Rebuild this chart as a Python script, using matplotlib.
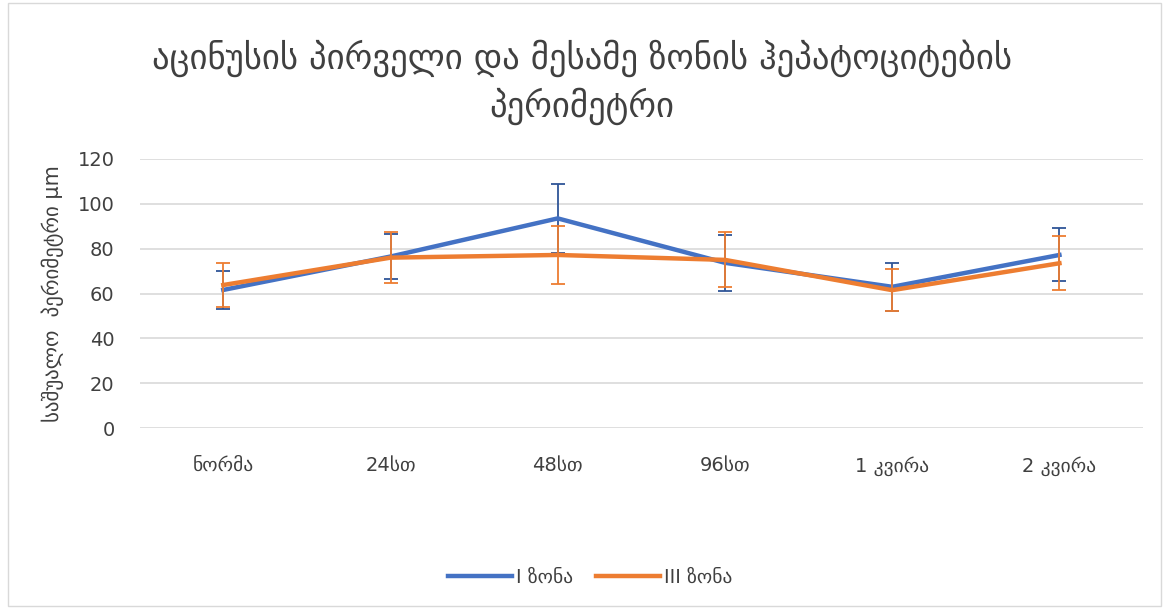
import matplotlib
matplotlib.use('Agg')
import matplotlib.pyplot as plt
from matplotlib.lines import Line2D
import numpy as np

plt.rcParams['font.family'] = ['DejaVu Sans']

# Daten
kategorien = ['ნორმა', '24სთ', '48სთ', '96სთ', '1 კვირა', '2 კვირა']
zona1 = [61.6, 76.5, 93.5, 73.7, 63.0, 77.2]
zona1_err = [8.5, 10.0, 15.3, 12.5, 10.7, 11.8]
zona3 = [63.8, 76.0, 77.2, 75.0, 61.5, 73.5]
zona3_err = [10.0, 11.3, 13.0, 12.3, 9.5, 12.0]

blau = '#4472C4'
orange = '#ED7D31'
grau = '#404040'

fig = plt.figure(figsize=(11.64, 6.09), dpi=100)
ax = fig.add_axes([0.120, 0.297, 0.862, 0.442])

x = np.arange(len(kategorien))
ax.errorbar(x, zona1, yerr=zona1_err, color=blau, lw=3.2, ecolor='#2F5597',
            elinewidth=1.3, capsize=5, capthick=1.3, zorder=3)
ax.errorbar(x, zona3, yerr=zona3_err, color=orange, lw=3.2, ecolor=orange,
            elinewidth=1.3, capsize=5, capthick=1.3, zorder=4)

ax.set_xlim(-0.5, len(kategorien) - 0.5)
ax.set_ylim(0, 120)
ax.set_yticks(np.arange(0, 121, 20))
ax.set_xticks(x)
ax.set_xticklabels(kategorien, fontsize=14, color=grau)
ax.tick_params(axis='y', labelsize=14, colors=grau, length=0, pad=18)
ax.tick_params(axis='x', length=0, pad=20)
ax.grid(axis='y', color='#D9D9D9', lw=1.2)
ax.set_axisbelow(True)
for s in ax.spines.values():
    s.set_visible(False)

ax.set_ylabel('საშუალო  პერიმეტრი μm', fontsize=15, color=grau, labelpad=10)

fig.text(0.5, 0.865, 'აცინუსის პირველი და მესამე ზონის ჰეპატოციტების\nპერიმეტრი',
         ha='center', va='center', fontsize=25, color=grau, linespacing=1.35)

handles = [Line2D([], [], color=blau, lw=3.2), Line2D([], [], color=orange, lw=3.2)]
fig.legend(handles, ['I ზონა', 'III ზონა'], loc='center', bbox_to_anchor=(0.507, 0.052),
           ncol=2, frameon=False, fontsize=14, handlelength=3.3, columnspacing=1.2,
           handletextpad=0.2, labelcolor=grau)

# Rahmen
fig.patches.append(plt.Rectangle((0.007, 0.005), 0.99, 0.99, transform=fig.transFigure,
                                 fill=False, ec='#D9D9D9', lw=1))

plt.savefig('out.png', dpi=100)
